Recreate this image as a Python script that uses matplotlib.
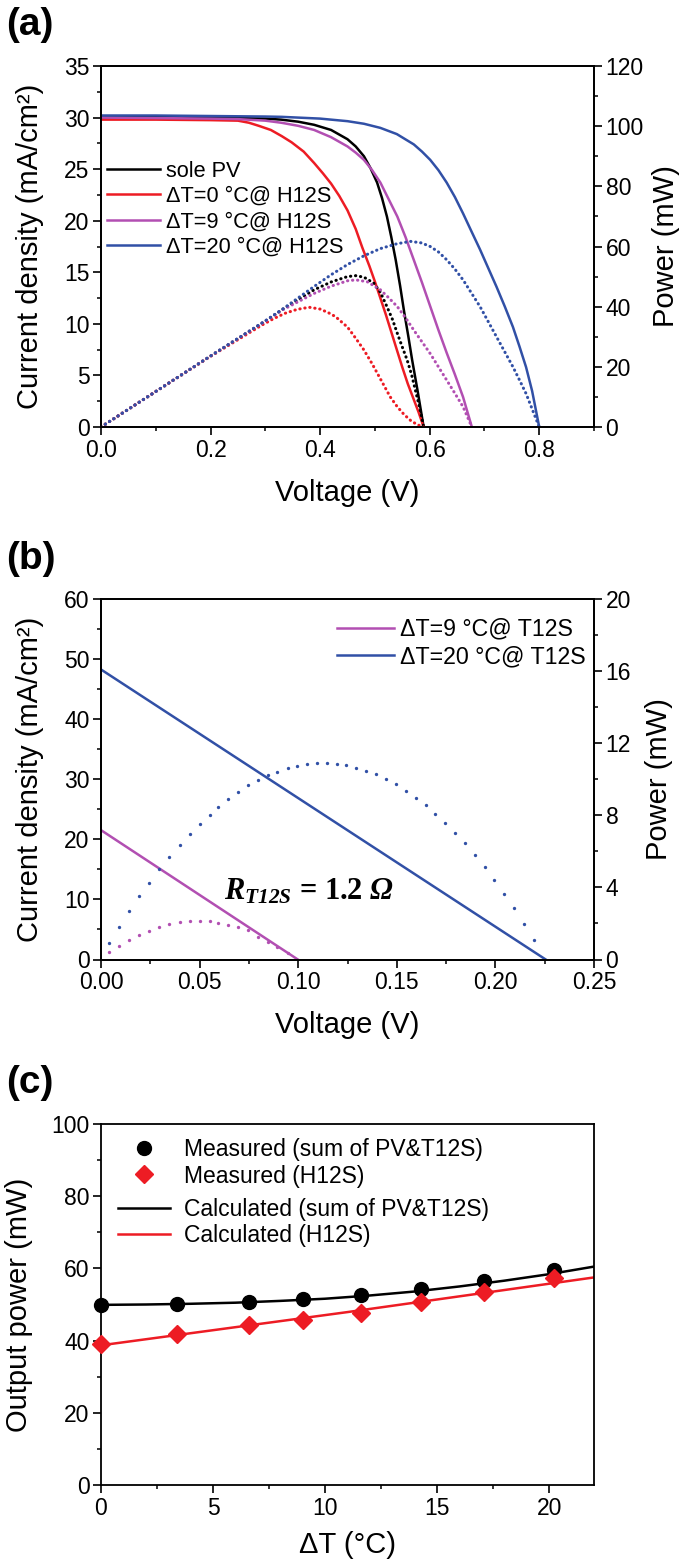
import matplotlib
matplotlib.use('Agg')
import matplotlib.pyplot as plt
from matplotlib.ticker import MultipleLocator, FormatStrFormatter

plt.rcParams['font.family'] = ['Liberation Sans', 'DejaVu Sans']
plt.rcParams['mathtext.fontset'] = 'custom'
plt.rcParams['mathtext.it'] = 'Liberation Serif:bold:italic'
plt.rcParams['mathtext.bf'] = 'Liberation Serif:bold'
plt.rcParams['mathtext.rm'] = 'Liberation Serif:bold:italic'

# ---------------- colours ----------------
C_BLACK = '#000000'
C_RED = '#ED1C24'
C_MAG = '#B24FB2'
C_BLUE = '#3150A6'

# ---------------- panel (a) data ----------------
v_sole = [0.0, 0.1, 0.2, 0.3, 0.329, 0.36, 0.389, 0.42, 0.45, 0.465, 0.48, 0.492, 0.504, 0.513,
          0.522, 0.530, 0.538, 0.546, 0.553, 0.561, 0.568, 0.578, 0.589]
j_sole = [30.0, 30.05, 30.0, 29.9, 29.8, 29.6, 29.3, 28.8, 27.9, 27.2, 26.25, 25.1, 23.7, 22.2,
          20.4, 18.4, 16.2, 13.7, 11.3, 8.8, 6.5, 3.5, 0.0]

v_h0 = [0.0, 0.1, 0.2, 0.25, 0.27, 0.288, 0.31, 0.33, 0.348, 0.37, 0.389, 0.405, 0.42, 0.435,
        0.45, 0.465, 0.477, 0.49, 0.50, 0.51, 0.52, 0.53, 0.54, 0.55, 0.56, 0.57, 0.58, 0.589]
j_h0 = [29.8, 29.8, 29.75, 29.7, 29.5, 29.2, 28.8, 28.2, 27.6, 26.7, 25.6, 24.6, 23.6, 22.4,
        21.0, 19.2, 17.4, 15.6, 14.1, 12.5, 10.9, 9.2, 7.5, 5.8, 4.2, 2.8, 1.4, 0.0]

v_h9 = [0.0, 0.1, 0.2, 0.25, 0.3, 0.329, 0.36, 0.389, 0.42, 0.45, 0.465, 0.48, 0.495, 0.51,
        0.525, 0.541, 0.556, 0.571, 0.586, 0.601, 0.616, 0.631, 0.646, 0.661, 0.677]
j_h9 = [30.0, 29.95, 29.9, 29.85, 29.7, 29.5, 29.2, 28.8, 28.1, 27.2, 26.6, 25.9, 24.9, 23.7,
        22.1, 20.4, 18.4, 16.2, 14.0, 11.7, 9.4, 7.2, 5.1, 2.9, 0.0]

v_h20 = [0.0, 0.1, 0.2, 0.3, 0.33, 0.40, 0.45, 0.48, 0.51, 0.54, 0.571, 0.586, 0.601, 0.616,
         0.631, 0.646, 0.661, 0.676, 0.692, 0.707, 0.722, 0.737, 0.752, 0.764, 0.776, 0.787, 0.80]
j_h20 = [30.2, 30.2, 30.15, 30.1, 30.07, 29.9, 29.65, 29.4, 29.0, 28.4, 27.4, 26.7, 25.9, 24.9,
         23.7, 22.3, 20.7, 19.0, 17.2, 15.4, 13.6, 11.7, 9.7, 7.8, 5.8, 3.5, 0.0]

pv_sole = [0.0, 0.1, 0.2, 0.3, 0.33, 0.389, 0.42, 0.45, 0.465, 0.48, 0.498, 0.51, 0.522, 0.532,
           0.541, 0.55, 0.559, 0.567, 0.574, 0.582, 0.589]
p_sole = [0.0, 11.8, 23.6, 35.2, 38.9, 45.6, 48.2, 50.0, 50.3, 49.8, 47.8, 44.8, 40.0, 35.8,
          31.1, 26.6, 22.2, 17.4, 12.2, 6.2, 0.0]

pv_h0 = [0.0, 0.1, 0.2, 0.294, 0.315, 0.336, 0.358, 0.38, 0.40, 0.415, 0.428, 0.45, 0.465, 0.48,
         0.495, 0.51, 0.528, 0.541, 0.553, 0.565, 0.577, 0.589]
p_h0 = [0.0, 11.8, 23.5, 33.9, 36.0, 37.8, 39.1, 39.8, 39.2, 38.0, 36.7, 33.2, 29.5, 25.6,
        21.0, 16.0, 10.0, 6.7, 4.2, 2.2, 0.8, 0.0]

pv_h9 = [0.0, 0.1, 0.2, 0.3, 0.33, 0.389, 0.42, 0.45, 0.465, 0.486, 0.51, 0.525, 0.541, 0.556,
         0.571, 0.586, 0.601, 0.616, 0.631, 0.646, 0.661, 0.677]
p_h9 = [0.0, 11.8, 23.6, 35.2, 38.8, 44.4, 46.8, 48.6, 48.9, 48.3, 45.6, 43.0, 40.0, 36.3,
        32.2, 28.3, 24.4, 20.0, 15.6, 11.2, 6.7, 0.0]

pv_h20 = [0.0, 0.1, 0.2, 0.3, 0.33, 0.389, 0.42, 0.45, 0.48, 0.51, 0.54, 0.565, 0.585, 0.601,
          0.616, 0.631, 0.646, 0.661, 0.676, 0.692, 0.707, 0.722, 0.737, 0.752, 0.764, 0.776,
          0.787, 0.80]
p_h20 = [0.0, 11.8, 23.6, 35.3, 39.0, 46.7, 50.6, 54.0, 56.9, 59.3, 60.9, 61.7, 61.2, 60.0,
         58.2, 55.6, 52.5, 48.9, 44.6, 40.0, 35.0, 30.0, 25.0, 20.0, 15.6, 11.1, 6.0, 0.0]

labels_a = ['sole PV', 'ΔT=0 °C@ H12S', 'ΔT=9 °C@ H12S', 'ΔT=20 °C@ H12S']

# ---------------- panel (b) data ----------------
v_t9 = [0.0, 0.0998]
j_t9 = [21.5, 0.0]
v_t20 = [0.0, 0.2255]
j_t20 = [48.2, 0.0]

pv_t20 = [0.0042, 0.0092, 0.0143, 0.0193, 0.0244, 0.0294, 0.0345, 0.0399, 0.0449, 0.05,
          0.0551, 0.0594, 0.0645, 0.0695, 0.0746, 0.0796, 0.0845, 0.0895, 0.0946, 0.0996,
          0.1045, 0.1096, 0.1146, 0.1197, 0.1244, 0.1295, 0.1345, 0.1395, 0.1446, 0.1497,
          0.1547, 0.1597, 0.1648, 0.1695, 0.1746, 0.1796, 0.1847, 0.1895, 0.1946, 0.1995,
          0.2045, 0.2096, 0.2145, 0.2195]
p_t20 = [0.93, 1.82, 2.69, 3.52, 4.26, 5.0, 5.70, 6.33, 6.94, 7.49,
         8.02, 8.47, 8.89, 9.30, 9.65, 9.94, 10.2, 10.4, 10.59, 10.72,
         10.83, 10.89, 10.89, 10.83, 10.78, 10.63, 10.46, 10.26, 9.98, 9.71,
         9.35, 8.96, 8.54, 8.06, 7.55, 7.03, 6.44, 5.79, 5.14, 4.40,
         3.65, 2.84, 1.97, 1.10]

pv_t9 = [0.0042, 0.0092, 0.0143, 0.0193, 0.0244, 0.0294, 0.0345, 0.0399, 0.0449, 0.05,
         0.0551, 0.0594, 0.0645, 0.0695, 0.0744, 0.0796, 0.0847, 0.0895, 0.0946]
p_t9 = [0.40, 0.75, 1.10, 1.36, 1.60, 1.78, 1.95, 2.06, 2.13, 2.15,
        2.12, 2.04, 1.93, 1.78, 1.63, 1.26, 0.99, 0.71, 0.34]

labels_b = ['ΔT=9 °C@ T12S', 'ΔT=20 °C@ T12S']

# ---------------- panel (c) data ----------------
dt_meas = [0.0, 3.4, 6.6, 9.0, 11.6, 14.3, 17.1, 20.2]
p_meas_sum = [49.9, 50.2, 50.6, 51.4, 52.6, 54.2, 56.6, 59.6]
p_meas_h = [39.1, 41.7, 44.2, 45.8, 47.6, 50.6, 53.6, 57.3]
dt_calc = [0, 2, 4, 6, 8, 10, 12, 14, 16, 18, 20, 22]
p_calc_sum = [49.9, 50.0, 50.2, 50.5, 51.0, 51.6, 52.5, 53.6, 55.0, 56.6, 58.4, 60.5]
dt_calc_h = [0, 11, 22]
p_calc_h = [38.7, 47.9, 57.5]

labels_c = ['Measured (sum of PV&T12S)', 'Measured (H12S)',
            'Calculated (sum of PV&T12S)', 'Calculated (H12S)']

# ---------------- layout ----------------
FW, FH = 689, 1568
fig = plt.figure(figsize=(FW / 100, FH / 100), dpi=100)
L = 101 / FW
W = 493 / FW
H = 361 / FH
axA = fig.add_axes([L, 1 - 427 / FH, W, H])
axB = fig.add_axes([L, 1 - 959.5 / FH, W, H])
axC = fig.add_axes([L, 1 - 1485 / FH, W, H])

TICK_FS = 16.5
LABEL_FS = 21
LW_SP = 1.3


def style_axis(ax, side):
    for s in ax.spines.values():
        s.set_linewidth(LW_SP)
    ax.tick_params(which='major', direction='out', length=5.8, width=1.2,
                   labelsize=TICK_FS, pad=2.5)
    ax.tick_params(which='minor', direction='out', length=3.0, width=1.1)
    if side == 'left':
        ax.tick_params(which='both', left=True, right=False, top=False, bottom=True)
    else:
        ax.tick_params(which='both', left=False, right=True, top=False, bottom=False,
                       labelright=True, labelleft=False)


DOT = (0, (0.1, 1.55))
LW_LINE = 1.8

# ---------------- panel (a) ----------------
axA2 = axA.twinx()
style_axis(axA, 'left')
style_axis(axA2, 'right')
hA = []
for v, j, c, lab in [(v_sole, j_sole, C_BLACK, labels_a[0]),
                     (v_h0, j_h0, C_RED, labels_a[1]),
                     (v_h9, j_h9, C_MAG, labels_a[2]),
                     (v_h20, j_h20, C_BLUE, labels_a[3])]:
    ln, = axA.plot(v, j, color=c, lw=LW_LINE, label=lab, solid_joinstyle='round')
    hA.append(ln)
for v, p, c in [(pv_sole, p_sole, C_BLACK), (pv_h0, p_h0, C_RED),
                (pv_h9, p_h9, C_MAG), (pv_h20, p_h20, C_BLUE)]:
    axA2.plot(v, p, color=c, lw=2.2, linestyle=DOT, dash_capstyle='round')
axA.set_xlim(0, 0.9)
axA.set_ylim(0, 35)
axA2.set_ylim(0, 120)
axA.xaxis.set_major_locator(MultipleLocator(0.2))
axA.xaxis.set_minor_locator(MultipleLocator(0.1))
axA.xaxis.set_major_formatter(FormatStrFormatter('%.1f'))
axA.yaxis.set_major_locator(MultipleLocator(5))
axA.yaxis.set_minor_locator(MultipleLocator(2.5))
axA2.yaxis.set_major_locator(MultipleLocator(20))
axA2.yaxis.set_minor_locator(MultipleLocator(10))
axA.set_xlabel('Voltage (V)', fontsize=LABEL_FS)
axA.set_ylabel('Current density (mA/cm²)', fontsize=LABEL_FS)
axA2.set_ylabel('Power (mW)', fontsize=LABEL_FS)
axA.xaxis.set_label_coords(0.5, -0.144)
axA.yaxis.set_label_coords(-0.1156, 0.5)
axA2.yaxis.set_label_coords(1.118, 0.5)
axA.legend(handles=hA, loc='upper left', bbox_to_anchor=(0.012, 0.738), frameon=False,
           fontsize=15.7, handlelength=2.45, handletextpad=0.25, labelspacing=0.2,
           borderpad=0, borderaxespad=0)

# ---------------- panel (b) ----------------
axB2 = axB.twinx()
style_axis(axB, 'left')
style_axis(axB2, 'right')
lb1, = axB.plot(v_t9, j_t9, color=C_MAG, lw=LW_LINE, label=labels_b[0])
lb2, = axB.plot(v_t20, j_t20, color=C_BLUE, lw=LW_LINE, label=labels_b[1])
axB2.plot(pv_t9, p_t9, linestyle='none', marker='o', ms=2.4, mew=0, color=C_MAG)
axB2.plot(pv_t20, p_t20, linestyle='none', marker='o', ms=2.4, mew=0, color=C_BLUE)
axB.set_xlim(0, 0.25)
axB.set_ylim(0, 60)
axB2.set_ylim(0, 20)
axB.xaxis.set_major_locator(MultipleLocator(0.05))
axB.xaxis.set_minor_locator(MultipleLocator(0.025))
axB.xaxis.set_major_formatter(FormatStrFormatter('%.2f'))
axB.yaxis.set_major_locator(MultipleLocator(10))
axB.yaxis.set_minor_locator(MultipleLocator(5))
axB2.yaxis.set_major_locator(MultipleLocator(4))
axB2.yaxis.set_minor_locator(MultipleLocator(2))
axB.set_xlabel('Voltage (V)', fontsize=LABEL_FS)
axB.set_ylabel('Current density (mA/cm²)', fontsize=LABEL_FS)
axB2.set_ylabel('Power (mW)', fontsize=LABEL_FS)
axB.xaxis.set_label_coords(0.5, -0.144)
axB.yaxis.set_label_coords(-0.1156, 0.5)
axB2.yaxis.set_label_coords(1.104, 0.5)
axB.legend(handles=[lb1, lb2], loc='upper left', bbox_to_anchor=(0.479, 0.947), frameon=False,
           fontsize=16.7, handlelength=2.45, handletextpad=0.26, labelspacing=0.2,
           borderpad=0, borderaxespad=0)
axB.text(0.0624, 9.9, r'$R_{T12S}$ = 1.2 $Ω$',
         fontsize=22, ha='left', va='baseline', family='Liberation Serif', weight='bold')

# ---------------- panel (c) ----------------
style_axis(axC, 'left')
axC.tick_params(which='both', right=False)
lc3, = axC.plot(dt_calc, p_calc_sum, color=C_BLACK, lw=LW_LINE, label=labels_c[2])
lc4, = axC.plot(dt_calc_h, p_calc_h, color=C_RED, lw=LW_LINE, label=labels_c[3])
lc1, = axC.plot(dt_meas, p_meas_sum, linestyle='none', marker='o', ms=10, color=C_BLACK,
                label=labels_c[0], clip_on=False, zorder=3)
lc2, = axC.plot(dt_meas, p_meas_h, linestyle='none', marker='D', ms=9.5, color=C_RED,
                label=labels_c[1], clip_on=False, zorder=3)
axC.set_xlim(0, 22)
axC.set_ylim(0, 100)
axC.xaxis.set_major_locator(MultipleLocator(5))
axC.xaxis.set_minor_locator(MultipleLocator(2.5))
axC.yaxis.set_major_locator(MultipleLocator(20))
axC.yaxis.set_minor_locator(MultipleLocator(10))
axC.set_xlabel('ΔT (°C)', fontsize=LABEL_FS)
axC.set_ylabel('Output power (mW)', fontsize=LABEL_FS)
axC.xaxis.set_label_coords(0.5, -0.128)
axC.yaxis.set_label_coords(-0.137, 0.5)
legC1 = axC.legend(handles=[lc1, lc2], loc='upper left', bbox_to_anchor=(0.034, 0.961),
                   frameon=False, fontsize=16.5, handlelength=2.3, handletextpad=0.57,
                   labelspacing=0.15, borderpad=0, borderaxespad=0)
axC.add_artist(legC1)
axC.legend(handles=[lc3, lc4], loc='upper left', bbox_to_anchor=(0.034, 0.796),
           frameon=False, fontsize=16.5, handlelength=2.3, handletextpad=0.57,
           labelspacing=0.15, borderpad=0, borderaxespad=0)

# ---------------- panel letters ----------------
for lab, yc in [('(a)', 25), ('(b)', 559), ('(c)', 1083)]:
    fig.text(6 / FW, 1 - yc / FH, lab, fontsize=28, fontweight='bold', ha='left', va='center')

fig.savefig('out.png', dpi=100)
